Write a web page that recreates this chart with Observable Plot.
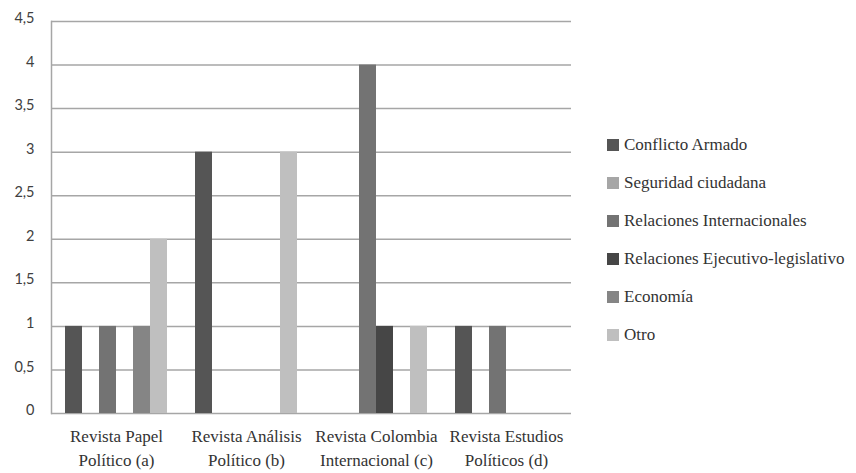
<!DOCTYPE html>
<html><head><meta charset="utf-8">
<script src="https://cdn.jsdelivr.net/npm/d3@7"></script>
<script src="https://cdn.jsdelivr.net/npm/@observablehq/plot@0.6"></script>
<style>
body{margin:0;background:#fff;}
#wrap{position:relative;width:856px;height:473px;overflow:hidden;}
#chart{position:absolute;left:0;top:0;}
#legend{position:absolute;left:607px;top:126px;color:#333;}
.item{height:38px;display:flex;align-items:center;white-space:nowrap;}
.sw{width:12px;height:12px;margin-right:5px;flex:none;}
</style></head><body>
<div id="wrap"><div id="chart"></div><div id="legend"></div></div>
<script>
const revistas = ["Revista Papel Político (a)", "Revista Análisis Político (b)", "Revista Colombia Internacional (c)", "Revista Estudios Políticos (d)"];
const revistaLinea1 = ["Revista Papel", "Revista Análisis", "Revista Colombia", "Revista Estudios"];
const revistaLinea2 = ["Político (a)", "Político (b)", "Internacional (c)", "Políticos (d)"];
const temas = ["Conflicto Armado", "Seguridad ciudadana", "Relaciones Internacionales", "Relaciones Ejecutivo-legislativo", "Economía", "Otro"];
const colores = ["#555555", "#a6a6a6", "#737373", "#464646", "#858585", "#bfbfbf"];
const conflictoArmado = [1, 3, 0, 1];
const seguridadCiudadana = [0, 0, 0, 0];
const relacionesInternacionales = [1, 0, 4, 1];
const relacionesEjecutivo = [0, 0, 1, 0];
const economia = [1, 0, 0, 0];
const otro = [2, 3, 1, 0];
const yTicks = [0, 0.5, 1, 1.5, 2, 2.5, 3, 3.5, 4, 4.5];

const series = [conflictoArmado, seguridadCiudadana, relacionesInternacionales, relacionesEjecutivo, economia, otro];
const data = [];
revistas.forEach((r, i) => temas.forEach((t, j) => data.push({revista: r, tema: t, valor: series[j][i]})));
const etiquetas = revistas.map((r, i) => ({revista: r, texto: revistaLinea1[i] + "\n" + revistaLinea2[i]}));

const chart = Plot.plot({
  width: 600, height: 473,
  marginLeft: 50, marginRight: 28, marginTop: 21, marginBottom: 60,
  style: {background: "transparent"},
  fx: {domain: revistas, padding: 0, axis: null},
  x: {domain: temas, paddingInner: 0, paddingOuter: 0.8, axis: null},
  y: {domain: [0, 4.5], axis: null},
  color: {domain: temas, range: colores},
  marks: [
    Plot.ruleY(yTicks, {stroke: "#a6a6a6", strokeWidth: 1.5}),
    Plot.frame({anchor: "left", facetAnchor: "left", stroke: "#a6a6a6", strokeWidth: 1.5}),
    Plot.barY(data, {fx: "revista", x: "tema", y: "valor", fill: "tema", inset: 0}),
    Plot.axisY(yTicks, {anchor: "left", label: null, tickSize: 0, tickPadding: 17, dy: -3,
      tickFormat: d => String(d).replace(".", ","), fontFamily: "Lato", fontSize: 14.5, fill: "#404040"}),
    Plot.text(etiquetas, {fx: "revista", text: "texto", frameAnchor: "bottom", lineAnchor: "top",
      dy: 12, lineHeight: 1.4, fontFamily: "Liberation Serif", fontSize: 17, fill: "#333"})
  ]
});
document.getElementById("chart").appendChild(chart);

const legend = d3.select("#legend");
temas.forEach((t, i) => {
  const it = legend.append("div").attr("class", "item");
  it.append("div").attr("class", "sw").style("background", colores[i]);
  it.append("span").text(t)
    .style("font-family", "'Liberation Serif', 'DejaVu Serif', serif")
    .style("font-size", "17px");
});
</script>
</body></html>
